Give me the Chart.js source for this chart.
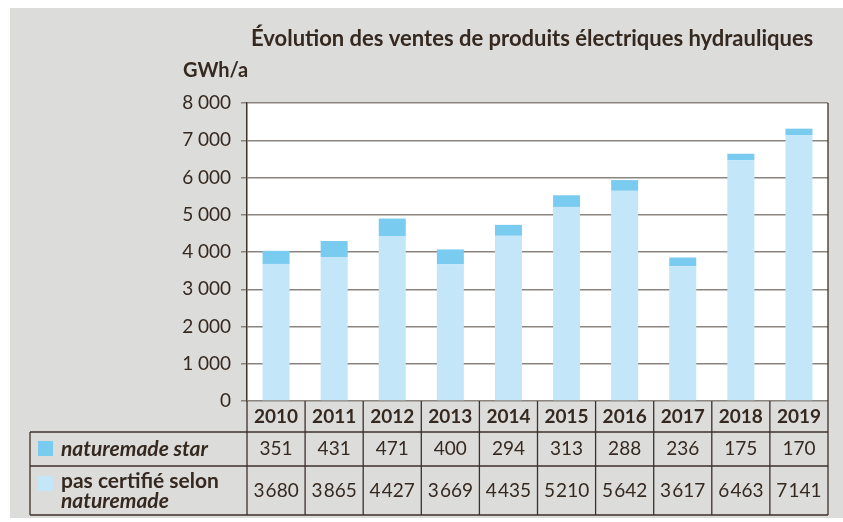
<!DOCTYPE html>
<html lang="fr">
<head>
    <meta charset="UTF-8">
    <title>Évolution des ventes de produits électriques hydrauliques</title>
    <script src="https://cdn.jsdelivr.net/npm/chart.js"></script>
    <style>
        body { margin: 0; background: #ffffff; }
        canvas { display: block; }
    </style>
</head>
<body>
    <canvas id="salesChart" width="843" height="522"></canvas>

    <script>
        // data
        const years = ['2010', '2011', '2012', '2013', '2014', '2015', '2016', '2017', '2018', '2019'];
        const starValues = [351, 431, 471, 400, 294, 313, 288, 236, 175, 170];
        const uncertifiedValues = [3680, 3865, 4427, 3669, 4435, 5210, 5642, 3617, 6463, 7141];
        const yTickLabels = ['0', '1\u202f000', '2\u202f000', '3\u202f000', '4\u202f000', '5\u202f000', '6\u202f000', '7\u202f000', '8\u202f000'];

        const titleText = 'Évolution des ventes de produits électriques hydrauliques';
        const unitText = 'GWh/a';

        const FONT = "Lato, 'Open Sans', sans-serif";
        const TEXT = '#35291f';
        const LINE = '#3d312a';
        const STAR = '#7acbf0';
        const PLAIN = '#c3e6f8';

        // thousands with a very thin gap, as in the printed table
        const fmt = v => String(v).replace(/\B(?=(\d{3})+(?!\d))/g, '\u200a');

        // draws background, titles and the data table under the chart
        const framePlugin = {
            id: 'frame',
            beforeDraw(chart) {
                const ctx = chart.ctx;
                const a = chart.chartArea;
                ctx.save();
                ctx.fillStyle = '#ffffff';
                ctx.fillRect(0, 0, chart.width, chart.height);
                ctx.fillStyle = '#dcdcdb';
                ctx.fillRect(10, 8, chart.width - 10, 510);
                ctx.fillStyle = '#ffffff';
                ctx.fillRect(a.left, a.top, a.right - a.left, a.bottom - a.top);

                ctx.fillStyle = TEXT;
                ctx.textBaseline = 'alphabetic';
                ctx.textAlign = 'left';
                ctx.font = "bold 22px " + FONT;
                ctx.fillText(titleText, 251, 46);
                ctx.font = "bold 20px " + FONT;
                ctx.fillText(unitText, 183, 77);
                ctx.restore();
            },
            afterDraw(chart) {
                const ctx = chart.ctx;
                const a = chart.chartArea;
                const x = chart.scales.x;
                const tableLeft = 30, row1 = 432, row2 = 466, tableBottom = 515;

                ctx.save();
                ctx.strokeStyle = LINE;
                ctx.lineWidth = 1.3;

                // plot right border
                ctx.beginPath();
                ctx.moveTo(a.right, a.top);
                ctx.lineTo(a.right, tableBottom);
                ctx.stroke();

                // column separators
                const edges = [a.left];
                for (let i = 1; i < years.length; i++) {
                    edges.push((x.getPixelForValue(i - 1) + x.getPixelForValue(i)) / 2);
                }
                edges.forEach(e => {
                    ctx.beginPath();
                    ctx.moveTo(e, a.bottom);
                    ctx.lineTo(e, tableBottom);
                    ctx.stroke();
                });

                // row lines
                [row1, row2, tableBottom].forEach(y => {
                    ctx.beginPath();
                    ctx.moveTo(tableLeft, y);
                    ctx.lineTo(a.right, y);
                    ctx.stroke();
                });
                ctx.beginPath();
                ctx.moveTo(tableLeft, row1);
                ctx.lineTo(tableLeft, tableBottom);
                ctx.stroke();

                // legend squares
                ctx.fillStyle = STAR;
                ctx.fillRect(38, 441, 15, 15);
                ctx.fillStyle = PLAIN;
                ctx.fillRect(38, 476, 15, 15);

                // row labels
                ctx.fillStyle = TEXT;
                ctx.textAlign = 'left';
                ctx.textBaseline = 'middle';
                ctx.font = "italic bold 21px " + FONT;
                ctx.fillText('naturemade star', 61, 449);
                ctx.font = "bold 21px " + FONT;
                ctx.fillText('pas certifié selon', 61, 481);
                ctx.font = "italic bold 21px " + FONT;
                ctx.fillText('naturemade', 61, 501);

                // values
                ctx.textAlign = 'center';
                ctx.font = "19px " + FONT;
                years.forEach((yr, i) => {
                    const cx = x.getPixelForValue(i);
                    ctx.fillText(fmt(starValues[i]), cx, 449);
                    ctx.fillText(fmt(uncertifiedValues[i]), cx, 491);
                });
                ctx.restore();
            }
        };

        const ctx = document.getElementById('salesChart').getContext('2d');
        new Chart(ctx, {
            type: 'bar',
            data: {
                labels: years,
                datasets: [
                    {
                        label: 'pas certifié selon naturemade',
                        data: uncertifiedValues,
                        backgroundColor: PLAIN
                    },
                    {
                        label: 'naturemade star',
                        data: starValues,
                        backgroundColor: STAR
                    }
                ]
            },
            options: {
                responsive: false,
                animation: false,
                categoryPercentage: 1,
                barPercentage: 0.465,
                layout: {
                    padding: { left: 0, right: 15, top: 103, bottom: 90 }
                },
                plugins: {
                    legend: { display: false },
                    title: { display: false },
                    tooltip: { enabled: false }
                },
                scales: {
                    x: {
                        stacked: true,
                        grid: { display: false, drawTicks: false },
                        border: { display: false },
                        ticks: {
                            color: TEXT,
                            font: { family: FONT, size: 19, weight: 'bold' },
                            padding: 4
                        },
                        afterFit: s => { s.height = 31; }
                    },
                    y: {
                        stacked: true,
                        min: 0,
                        max: 8000,
                        ticks: {
                            stepSize: 1000,
                            color: TEXT,
                            padding: 10,
                            font: { family: FONT, size: 19 },
                            callback: (v, i) => yTickLabels[i]
                        },
                        grid: {
                            color: '#8a847f',
                            lineWidth: 1.5,
                            tickLength: 6
                        },
                        border: { color: LINE, width: 1.5 },
                        afterFit: s => { s.width = 247; }
                    }
                }
            },
            plugins: [framePlugin]
        });
    </script>
</body>
</html>
